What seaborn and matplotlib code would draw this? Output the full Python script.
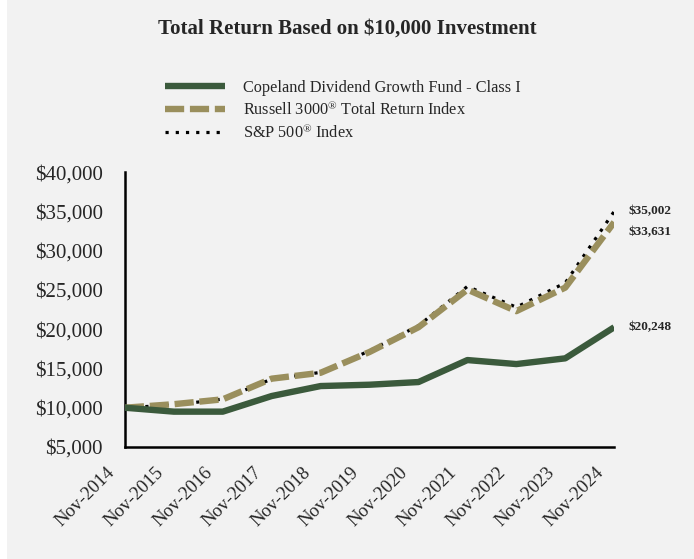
import numpy as np
import pandas as pd
import matplotlib.pyplot as plt
import matplotlib.transforms as mtransforms
import seaborn as sns

# data
dates = ["Nov-2014", "Nov-2015", "Nov-2016", "Nov-2017", "Nov-2018", "Nov-2019",
         "Nov-2020", "Nov-2021", "Nov-2022", "Nov-2023", "Nov-2024"]
fund = [10000, 9500, 9500, 11490, 12760, 12930, 13270, 16070, 15560, 16290, 20248]
russell = [10000, 10450, 11070, 13700, 14450, 17100, 20250, 25050, 22300, 25300, 33631]
sp500 = [10000, 10350, 11100, 13650, 14500, 17250, 20450, 25450, 22800, 25900, 35002]

fund_name = "Copeland Dividend Growth Fund - Class I"
russell_name = "Russell 3000$^{\u00ae}$ Total Return Index"
sp_name = "S&P 500$^{\u00ae}$ Index"

sns.set_style("white")
plt.rcParams['font.family'] = ['Liberation Serif', 'DejaVu Serif']
plt.rcParams['mathtext.fontset'] = 'custom'
plt.rcParams['mathtext.rm'] = 'Liberation Serif'
plt.rcParams['mathtext.it'] = 'Liberation Serif'
plt.rcParams['mathtext.bf'] = 'Liberation Serif:bold'

bg = "#f2f2f2"
fig = plt.figure(figsize=(6.94, 5.59), dpi=100, facecolor="white")
# grey panel, thin white strip on the left like the original
fig.patches.append(plt.Rectangle((7 / 694, 0), 1, 1, transform=fig.transFigure,
                                 facecolor=bg, edgecolor="none", zorder=-10))
ax = fig.add_axes([0.180, 0.2004, 0.705, 0.4916])
ax.set_facecolor(bg)

x = np.arange(len(dates))
df = pd.DataFrame({"x": x, "fund": fund, "russell": russell, "sp": sp500})

sns.lineplot(data=df, x="x", y="sp", ax=ax, color="black", linewidth=2.3,
             label=sp_name, zorder=2)
ax.lines[-1].set_dashes([1.0, 2.2])
ax.lines[-1].set_dash_capstyle("butt")
sns.lineplot(data=df, x="x", y="russell", ax=ax, color="#9a8f5d", linewidth=4.6,
             label=russell_name, zorder=3)
ax.lines[-1].set_dashes([3.0, 0.9])
ax.lines[-1].set_dash_capstyle("butt")
sns.lineplot(data=df, x="x", y="fund", ax=ax, color="#3b5a3c", linewidth=4.6,
             label=fund_name, zorder=4)
ax.lines[-1].set_solid_capstyle("butt")

ax.set_xlim(0, len(dates) - 1)
ax.set_ylim(5000, 40000)
ax.set_yticks(np.arange(5000, 40001, 5000))
ax.set_yticklabels([f"${v:,.0f}" for v in np.arange(5000, 40001, 5000)], fontsize=15)
ax.set_xticks(x)
ax.set_xticklabels(dates, rotation=45, ha="right", va="center", rotation_mode="anchor",
                   fontsize=13.5)
ax.tick_params(axis="y", length=0, pad=16)
ax.tick_params(axis="x", length=0, pad=0)
shift = mtransforms.ScaledTranslation(-13 / 100, -23 / 100, fig.dpi_scale_trans)
for lab in ax.get_xticklabels():
    lab.set_transform(lab.get_transform() + shift)
ax.set_xlabel("")
ax.set_ylabel("")
for s in ["top", "right"]:
    ax.spines[s].set_visible(False)
for s in ["left", "bottom"]:
    ax.spines[s].set_color("black")
    ax.spines[s].set_linewidth(1.8)

# end labels
ax.annotate(f"${sp500[-1]:,}", (x[-1], sp500[-1]), xytext=(10, 0), textcoords="offset points",
            fontsize=9.5, fontweight="bold", va="center", annotation_clip=False)
ax.annotate(f"${russell[-1]:,}", (x[-1], russell[-1]), xytext=(10, -7), textcoords="offset points",
            fontsize=9.5, fontweight="bold", va="center", annotation_clip=False)
ax.annotate(f"${fund[-1]:,}", (x[-1], fund[-1]), xytext=(10, 0), textcoords="offset points",
            fontsize=9.5, fontweight="bold", va="center", annotation_clip=False)

handles, labels = ax.get_legend_handles_labels()
ax.get_legend().remove()
order = [2, 1, 0]
fig.legend([handles[i] for i in order], [labels[i] for i in order],
           loc="upper left", bbox_to_anchor=(0.216, 0.883), frameon=False,
           fontsize=11.7, handlelength=3.7, handletextpad=1.1, labelspacing=0.3)

fig.suptitle("Total Return Based on $10,000 Investment", fontsize=15, fontweight="bold",
             y=0.948, va="center")

fig.savefig("out.png", dpi=100, facecolor="white")
